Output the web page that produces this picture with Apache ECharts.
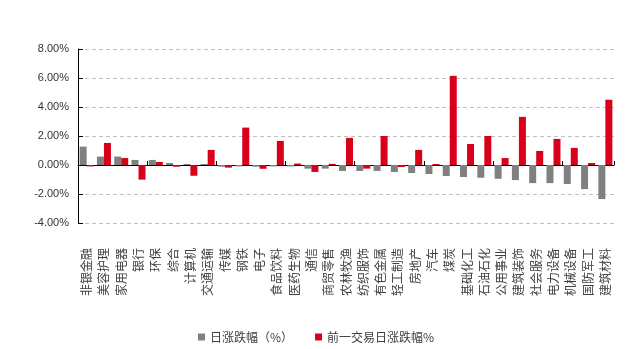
<!DOCTYPE html>
<html>
<head>
<meta charset="utf-8">
<script src="https://cdn.jsdelivr.net/npm/echarts@6/dist/echarts.min.js"></script>
<style>
  html, body { margin: 0; padding: 0; background: #fff; }
  #chart { width: 637px; height: 349px; }
</style>
</head>
<body>
<div id="chart"></div>
<script>
// 申万一级行业涨跌幅（%）
const industries = ['非银金融', '美容护理', '家用电器', '银行', '环保', '综合', '计算机', '交通运输', '传媒', '钢铁',
  '电子', '食品饮料', '医药生物', '通信', '商贸零售', '农林牧渔', '纺织服饰', '有色金属', '轻工制造', '房地产',
  '汽车', '煤炭', '基础化工', '石油石化', '公用事业', '建筑装饰', '社会服务', '电力设备', '机械设备', '国防军工', '建筑材料'];

const dailyChange = [1.27, 0.58, 0.58, 0.35, 0.35, 0.14, 0.07, 0.07, -0.12, -0.10,
  -0.12, -0.10, -0.10, -0.25, -0.25, -0.41, -0.41, -0.41, -0.48, -0.55,
  -0.62, -0.76, -0.83, -0.88, -0.95, -1.04, -1.25, -1.25, -1.31, -1.66, -2.35];

const prevDayChange = [-0.10, 1.52, 0.48, -1.01, 0.21, -0.12, -0.74, 1.04, -0.18, 2.58,
  -0.26, 1.66, 0.10, -0.48, 0.08, 1.87, -0.25, 2.00, -0.14, 1.04,
  0.07, 6.15, 1.45, 2.00, 0.48, 3.32, 0.97, 1.80, 1.18, 0.14, 4.50];

const seriesNames = ['日涨跌幅（%）', '前一交易日涨跌幅%'];

const chart = echarts.init(document.getElementById('chart'), null, { renderer: 'canvas' });

const cjk = '"Noto Sans CJK SC", "Microsoft YaHei", sans-serif';

chart.setOption({
  animation: false,
  backgroundColor: '#ffffff',
  grid: { left: 78, right: 23, top: 49, bottom: 126, containLabel: false },
  legend: {
    data: seriesNames,
    left: 193,
    top: 326,
    itemWidth: 7,
    itemHeight: 7,
    itemGap: 22,
    icon: 'rect',
    textStyle: { fontFamily: cjk, fontSize: 12, color: '#404040', padding: [0, 0, 0, 0] }
  },
  xAxis: [
    {
      // zero line with inward ticks between categories
      type: 'category',
      data: industries,
      axisLine: { onZero: true, lineStyle: { color: '#000', width: 1 } },
      axisTick: { show: true, inside: true, length: 4, alignWithLabel: false, lineStyle: { color: '#000' } },
      axisLabel: { show: false },
      splitLine: { show: false }
    },
    {
      // category names along the bottom edge of the plot
      type: 'category',
      data: industries,
      position: 'bottom',
      axisLine: { show: false, onZero: false },
      axisTick: { show: false },
      axisLabel: {
        show: true,
        interval: 0,
        rotate: 90,
        margin: 25,
        fontFamily: cjk,
        fontSize: 12,
        color: '#404040'
      }
    }
  ],
  yAxis: {
    type: 'value',
    min: -4,
    max: 8,
    interval: 2,
    axisLine: { show: true, lineStyle: { color: '#000', width: 1 } },
    axisTick: { show: true, inside: true, length: 5, lineStyle: { color: '#000' } },
    axisLabel: {
      margin: 9,
      fontFamily: '"Liberation Sans", Arial, sans-serif',
      fontSize: 11,
      color: '#333',
      formatter: v => v.toFixed(2) + '%'
    },
    splitLine: {
      show: true,
      lineStyle: { color: '#c0c0c0', type: [4, 3], width: 1 }
    }
  },
  series: [
    {
      name: seriesNames[0],
      type: 'bar',
      xAxisIndex: 0,
      data: dailyChange,
      barWidth: 7,
      barGap: '0%',
      itemStyle: { color: '#808080' }
    },
    {
      name: seriesNames[1],
      type: 'bar',
      xAxisIndex: 0,
      data: prevDayChange,
      barWidth: 7,
      barGap: '0%',
      itemStyle: { color: '#d9001b' }
    }
  ]
});
</script>
</body>
</html>
